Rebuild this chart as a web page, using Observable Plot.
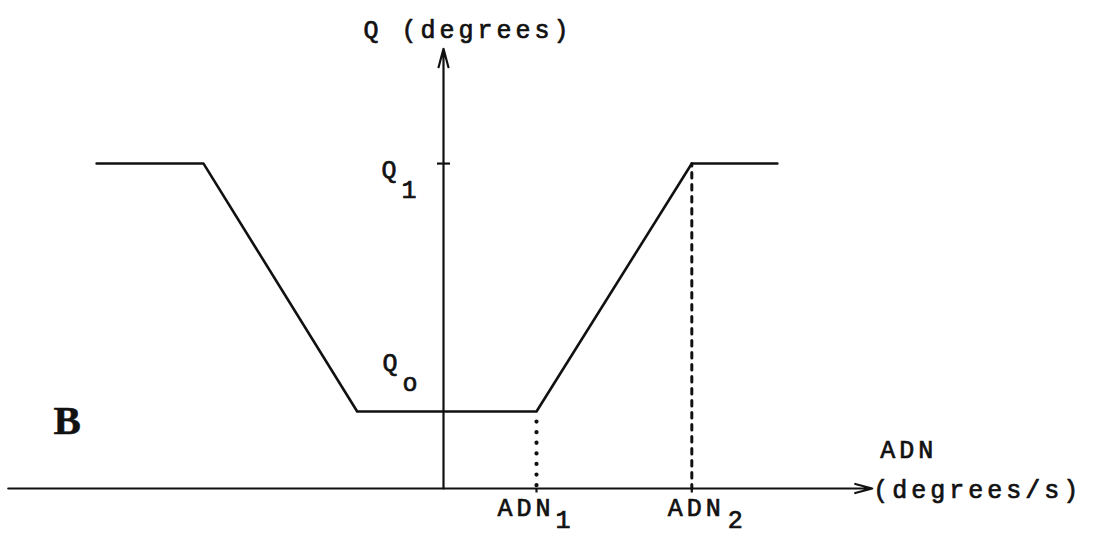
<!DOCTYPE html>
<html>
<head>
<meta charset="utf-8">
<script src="https://cdn.jsdelivr.net/npm/d3@7"></script>
<script src="https://cdn.jsdelivr.net/npm/@observablehq/plot@0.6"></script>
<style>
  html, body { margin: 0; padding: 0; background: #fff; }
  #chart svg { display: block; }
</style>
</head>
<body>
<div id="chart"></div>
<script>
// Piecewise-linear response: Q (degrees) as a function of ADN (degrees/s)
const adnBreaks = [-3.73, -2.58, -0.928, 1, 2.67, 3.59];
const qValues   = [42.2, 42.2, 10, 10, 42.2, 42.2];

// Named levels and thresholds
const qLow = 10;      // Q_o
const qHigh = 42.2;   // Q_1
const adn1 = 1;       // ADN_1
const adn2 = 2.67;    // ADN_2

// Axis extents
const xAxisRange = [-4.68, 4.61];
const yAxisTop = 57.1;

const curve = adnBreaks.map((adn, i) => ({adn, q: qValues[i]}));

// Short dash symbols for tick marks
const hTick = {draw(ctx, size) { const l = 6.5; ctx.moveTo(-l, 0); ctx.lineTo(l, 0); }};
const vTick = {draw(ctx, size) { ctx.moveTo(0, 0); ctx.lineTo(0, 4); }};

const W = 1094, H = 538;
const x0px = 443, y0px = 488, pxPerX = 93, pxPerY = 7.7;

const mono = "Liberation Mono, DejaVu Sans Mono, monospace";
const ink = "#111";
const labelStyle = {fontSize: 25, fill: ink, stroke: ink, strokeWidth: 0.7,
  textAnchor: "start", lineAnchor: "bottom"};

const chart = Plot.plot({
  width: W,
  height: H,
  margin: 0,
  style: {fontFamily: mono, letterSpacing: "4px", color: ink, background: "#fff"},
  x: {type: "linear", domain: [-x0px / pxPerX, (W - x0px) / pxPerX], range: [0, W], axis: null},
  y: {type: "linear", domain: [(y0px - H) / pxPerY, y0px / pxPerY], range: [H, 0], axis: null},
  marks: [
    // axes with arrowheads
    Plot.arrow([0], {x1: xAxisRange[0], x2: xAxisRange[1], y1: 0, y2: 0,
      stroke: ink, strokeWidth: 2.2, headLength: 12, headAngle: 30}),
    Plot.arrow([0], {x1: 0, x2: 0, y1: 0, y2: yAxisTop,
      stroke: ink, strokeWidth: 2.2, headLength: 13, headAngle: 30}),

    // tick at Q_1 on the vertical axis, small ticks under ADN_1 and ADN_2
    Plot.dot([qHigh], {x: 0, y: d => d, symbol: hTick, r: 6, stroke: ink, strokeWidth: 2.2}),
    Plot.dot([adn1, adn2], {x: d => d, y: 0, symbol: vTick, r: 4, stroke: ink, strokeWidth: 2.2}),

    // guides from the corners down to the ADN axis: dotted under ADN_1, dashed under ADN_2
    Plot.line([{adn: adn1, q: qLow}, {adn: adn1, q: 0}], {x: "adn", y: "q", stroke: ink,
      strokeWidth: 4.2, strokeDasharray: "0.1 10.5", strokeLinecap: "round", strokeDashoffset: -10}),
    Plot.line([{adn: adn2, q: qHigh}, {adn: adn2, q: 0}], {x: "adn", y: "q", stroke: ink,
      strokeWidth: 3, strokeDasharray: "5.5 6.5", strokeDashoffset: -9}),

    // the response curve
    Plot.line(curve, {x: "adn", y: "q", stroke: ink, strokeWidth: 2.6, strokeLinejoin: "round"}),

    // axis titles
    Plot.text(["Q (degrees)"], {...labelStyle, x: 0, y: yAxisTop, text: d => d, dx: -80, dy: -11}),
    Plot.text(["ADN"], {...labelStyle, x: xAxisRange[1], y: 0, text: d => d, dx: 8, dy: -31}),
    Plot.text(["(degrees/s)"], {...labelStyle, x: xAxisRange[1], y: 0, text: d => d, dx: 1, dy: 9}),

    // level labels Q_1 and Q_o
    Plot.text(["Q"], {...labelStyle, x: 0, y: qHigh, text: d => d, dx: -62, dy: 14}),
    Plot.text(["1"], {...labelStyle, x: 0, y: qHigh, text: d => d, dx: -42, dy: 34}),
    Plot.text(["Q"], {...labelStyle, x: 0, y: qLow, text: d => d, dx: -61, dy: -41}),
    Plot.text(["o"], {...labelStyle, x: 0, y: qLow, text: d => d, dx: -41, dy: -21}),

    // threshold labels ADN_1 and ADN_2
    Plot.text(["ADN"], {...labelStyle, x: adn1, y: 0, text: d => d, dx: -39, dy: 27}),
    Plot.text(["1"], {...labelStyle, x: adn1, y: 0, text: d => d, dx: 19, dy: 39}),
    Plot.text(["ADN"], {...labelStyle, x: adn2, y: 0, text: d => d, dx: -24, dy: 27}),
    Plot.text(["2"], {...labelStyle, x: adn2, y: 0, text: d => d, dx: 36, dy: 39}),

    // panel letter
    Plot.text(["B"], {...labelStyle, frameAnchor: "top-left", text: d => d, fontWeight: "bold",
      dx: 53, dy: 433, fontSize: 41, strokeWidth: 0.5,
      fontFamily: "Liberation Serif, DejaVu Serif, serif"})
  ]
});

document.getElementById("chart").appendChild(chart);
</script>
</body>
</html>
